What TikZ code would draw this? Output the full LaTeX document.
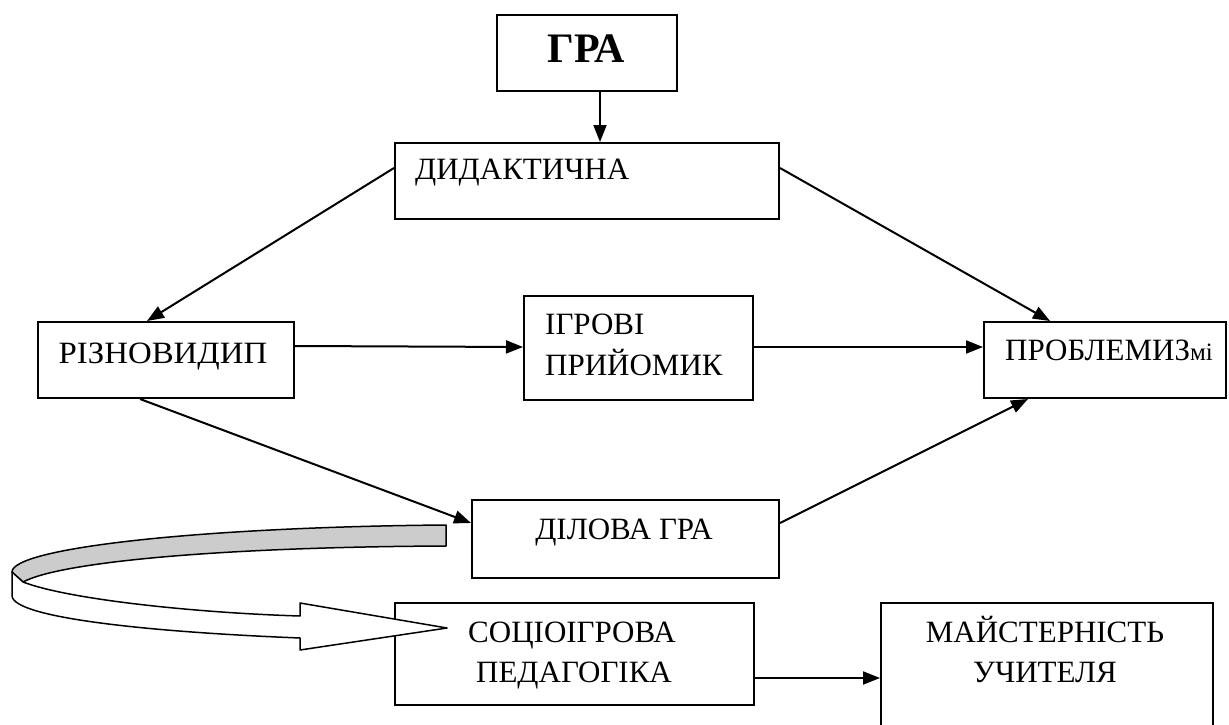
\documentclass[tikz,border=0pt]{standalone}
\usepackage{fontspec}
\setmainfont{Liberation Serif}
\usetikzlibrary{arrows.meta}
\tikzset{
  box/.style={draw, line width=2pt, rectangle, anchor=north west, inner sep=0pt},
  lbl/.style={inner sep=0pt, font=\fontsize{31}{40}\selectfont},
  conn/.style={line width=2pt, -{Triangle[length=17pt,width=13pt]}},
  ribbon/.style={draw, line width=1.5pt, line join=round}
}
\begin{document}
\begin{tikzpicture}[x=1pt,y=-1pt]
\useasboundingbox (0,0) rectangle (1229,725);
\clip (0,0) rectangle (1229,725);
% boxes
\node[box, minimum width=180pt, minimum height=76pt] (gra) at (496,14) {};
\node[box, minimum width=384pt, minimum height=76pt] (did) at (394,142) {};
\node[box, minimum width=256pt, minimum height=76pt] (riz) at (37,321) {};
\node[box, minimum width=229pt, minimum height=104pt] (igr) at (523,295) {};
\node[box, minimum width=242pt, minimum height=76pt] (pro) at (983,321) {};
\node[box, minimum width=307pt, minimum height=78pt] (dil) at (471,499) {};
\node[box, minimum width=359pt, minimum height=102pt] (soc) at (394,602) {};
\node[box, minimum width=332pt, minimum height=140pt] (mai) at (880,602) {};
% texts
\node[lbl, anchor=base, font=\fontsize{42}{48}\selectfont\bfseries] (tgra) at (586,63) {ГРА};
\node[lbl, anchor=base west] (tdid) at (415,179) {ДИДАКТИЧНА};
\node[lbl, anchor=base, xscale=1.06] (triz) at (163,363) {РІЗНОВИДИП};
\node[lbl, anchor=base west] (tigr1) at (545,334) {ІГРОВІ};
\node[lbl, anchor=base west] (tigr2) at (545,375) {ПРИЙОМИК};
\node[lbl, anchor=base west] (tpro) at (1005,360) {ПРОБЛЕМИЗ\fontsize{25}{30}\selectfont мі};
\node[lbl, anchor=base] (tdil) at (624,539) {ДІЛОВА ГРА};
\node[lbl, anchor=base] (tsoc1) at (572,642) {СОЦІОІГРОВА};
\node[lbl, anchor=base] (tsoc2) at (574,682) {ПЕДАГОГІКА};
\node[lbl, anchor=base] (tmai1) at (1045,642) {МАЙСТЕРНІСТЬ};
\node[lbl, anchor=base] (tmai2) at (1045,682) {УЧИТЕЛЯ};
% connectors
\draw[conn] ([xshift=13pt]gra.south) -- ([xshift=13pt]gra.south |- did.north);
\draw[conn] ([yshift=-26pt]did.north west) -- ([xshift=110pt]riz.north west);
\draw[conn] ([yshift=-26pt]did.north east) -- ([xshift=67pt]pro.north west);
\draw[conn] ([yshift=-25pt]riz.north east) -- ([yshift=-52pt]igr.north west);
\draw[conn] ([yshift=-52pt]igr.north east) -- ([yshift=-26pt]pro.north west);
\draw[conn] ([xshift=103pt]riz.south west) -- ([yshift=-24pt]dil.north west);
\draw[conn] ([yshift=-24pt]dil.north east) -- ([xshift=45pt]pro.south west);
\draw[conn] ([yshift=-76pt]soc.north east) -- ([yshift=-76pt]mai.north west);
% curved block arrow
\path[ribbon, fill=gray!40] (446,525) .. controls (200,527) and (12,548) .. (12,572)
  -- (23,582) .. controls (60,562) and (220,547) .. (446,546) -- cycle;
\path[ribbon, fill=white] (12,572) -- (12,596) .. controls (14,618) and (150,632) .. (300,638)
  -- (300,650) -- (447,628) -- (300,603) -- (300,616)
  .. controls (200,613) and (70,600) .. (23,582) -- cycle;
\end{tikzpicture}
\end{document}
